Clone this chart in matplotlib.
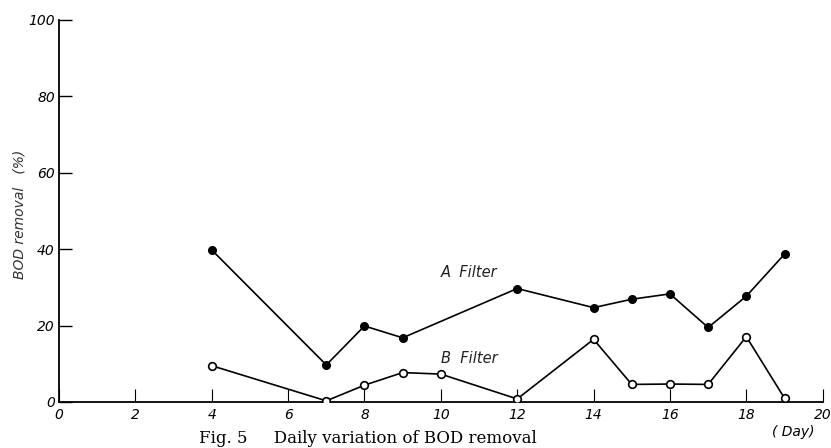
import numpy as np
import matplotlib.pyplot as plt

# Daily BOD removal
days_a = [4, 7, 8, 9, 12, 14, 15, 16, 17, 18, 19]
removal_a = [39.8, 9.7, 19.9, 16.8, 29.7, 24.7, 26.9, 28.3, 19.5, 27.7, 38.7]

days_b = [4, 7, 8, 9, 10, 12, 14, 15, 16, 17, 18, 19]
removal_b = [9.5, 0.3, 4.4, 7.7, 7.3, 0.8, 16.4, 4.6, 4.7, 4.6, 17.1, 1.0]

x_ticks = [0, 2, 4, 6, 8, 10, 12, 14, 16, 18, 20]
y_ticks = [0, 20, 40, 60, 80, 100]

fig = plt.figure(figsize=(8.31, 4.48), dpi=100)
ax = fig.add_axes([0.071, 0.1027, 0.919, 0.8527])

ax.plot(days_a, removal_a, color='black', linewidth=1.2, marker='o',
        markersize=5.5, markerfacecolor='black', markeredgecolor='black', zorder=3)
ax.plot(days_b, removal_b, color='black', linewidth=1.2, marker='o',
        markersize=5.5, markerfacecolor='white', markeredgecolor='black',
        markeredgewidth=1.2, zorder=3)

ax.text(10.0, 33.8, 'A  Filter', fontsize=10.5, style='italic', va='center', color='#222222')
ax.text(10.0, 11.3, 'B  Filter', fontsize=10.5, style='italic', va='center', color='#222222')

ax.set_xlim(0, 20)
ax.set_ylim(0, 100)
ax.set_xticks(x_ticks)
ax.set_yticks(y_ticks)
ax.set_xticklabels([str(t) for t in x_ticks], style='italic', fontsize=10)
ax.set_yticklabels([str(t) for t in y_ticks], style='italic', fontsize=10)
ax.tick_params(axis='both', direction='in', length=9.5, width=1.0, pad=4)
ax.tick_params(axis='x', width=0.8)
ax.tick_params(axis='y', pad=3)

for side in ['top', 'right']:
    ax.spines[side].set_visible(False)
for side in ['left', 'bottom']:
    ax.spines[side].set_linewidth(1.3)

ax.set_ylabel('BOD removal   (%)', fontsize=10, style='italic', color='#333333')
ax.yaxis.set_label_coords(-0.042, 0.49)

fig.text(0.955, 0.035, '( Day)', fontsize=10, style='italic', ha='center', va='center')
fig.text(0.24, 0.003, 'Fig. 5     Daily variation of BOD removal', fontsize=12,
         family='DejaVu Serif', ha='left', va='bottom')

fig.savefig('out.png', dpi=100)
